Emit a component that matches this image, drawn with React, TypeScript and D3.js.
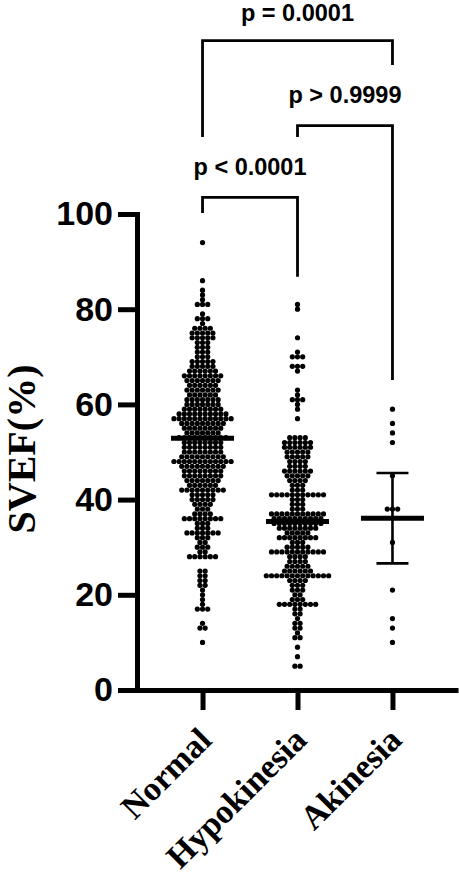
import React, { useRef, useEffect } from 'react';
import * as d3 from 'd3';

// groups on the x axis
const categories = ['Normal', 'Hypokinesia', 'Akinesia'];

const normalRows: [number, number][] = [
  [94, 1], [86, 1], [84, 1], [83, 1], [82, 1], [81, 3], [79, 1], [78, 3], [77, 1],
  [76, 4], [75, 5], [74, 5], [73, 3], [72, 3], [71, 3], [70, 3], [69, 5], [68, 5],
  [67, 6], [66, 8], [65, 7], [64, 6], [63, 7], [62, 6], [61, 7], [60, 7], [59, 8],
  [58, 10], [57, 12], [56, 9], [55, 8], [54, 7], [53, 10], [52, 8], [51, 8], [50, 8],
  [49, 9], [48, 12], [47, 9], [46, 8], [45, 8], [44, 7], [43, 6], [42, 9], [41, 5],
  [40, 5], [39, 4], [38, 3], [37, 4], [36, 8], [35, 3], [34, 3], [33, 7], [32, 3],
  [31, 2], [30, 3], [29, 2], [28, 6], [25, 2], [24, 2], [23, 2], [22, 2], [21, 1],
  [20, 1], [19, 1], [18, 1], [17, 3], [14, 1], [13, 2], [10, 1],
];

const hypokinesiaRows: [number, number][] = [
  [81, 1], [80, 1], [74, 1], [71, 1], [70, 3], [68, 3], [67, 1], [63, 1], [62, 1],
  [61, 3], [60, 1], [59, 1], [57, 1], [53, 4], [52, 6], [51, 6], [50, 5], [49, 5],
  [48, 4], [47, 4], [46, 6], [45, 5], [44, 4], [43, 3], [42, 3], [41, 11], [40, 3],
  [39, 3], [38, 3], [37, 11], [36, 10], [35, 10], [34, 8], [33, 5], [32, 8], [31, 3],
  [30, 5], [29, 11], [28, 4], [27, 4], [26, 5], [25, 6], [24, 13], [23, 4], [22, 3],
  [21, 3], [20, 2], [19, 3], [18, 8], [17, 2], [16, 2], [15, 1], [14, 2], [13, 2],
  [12, 1], [11, 2], [9, 1], [7, 1], [5, 2],
];

const akinesiaRows: [number, number][] = [
  [59, 1], [56, 1], [54, 1], [52, 1], [45, 1], [38, 3], [31, 1], [21, 1], [15, 1],
  [13, 1], [10, 1],
];

const groupRows = [normalRows, hypokinesiaRows, akinesiaRows];

// summary line per group, and the error bar that is visible (Akinesia only)
const means = [52.9, 35.4, 36.1];
const errorLow = [null, null, 26.6];
const errorHigh = [null, null, 45.6];

const yTicks = [0, 20, 40, 60, 80, 100];

// multiple comparisons shown above the plot
const comparisons = [
  { a: 'Normal', b: 'Akinesia', label: 'p = 0.0001' },
  { a: 'Hypokinesia', b: 'Akinesia', label: 'p > 0.9999' },
  { a: 'Normal', b: 'Hypokinesia', label: 'p < 0.0001' },
];

export default function App() {
  const ref = useRef<SVGSVGElement>(null);

  useEffect(() => {
    if (!ref.current) return;
    const svg = d3.select(ref.current);
    svg.selectAll('*').remove();

    const x = d3.scalePoint<string>().domain(categories).range([137, 458]).padding(0.69);
    const y = d3.scaleLinear().domain([0, 100]).range([690, 214]);

    const axisW = 5;
    const sans = '"Liberation Sans", Arial, sans-serif';
    const serif = '"Liberation Serif", "Times New Roman", serif';

    // dots
    const r = 2.6;
    const step = 5.2;
    const dots: { cx: number; cy: number }[] = [];
    groupRows.forEach((rows, gi) => {
      const cx0 = x(categories[gi])!;
      rows.forEach(([v, n]) => {
        for (let i = 0; i < n; i++) {
          dots.push({ cx: cx0 + (i - (n - 1) / 2) * step, cy: y(v) });
        }
      });
    });
    svg.append('g')
      .selectAll('circle')
      .data(dots)
      .enter()
      .append('circle')
      .attr('cx', d => d.cx)
      .attr('cy', d => d.cy)
      .attr('r', r)
      .attr('fill', '#000');

    // mean lines + error bars
    const g = svg.append('g').attr('stroke', '#000');
    categories.forEach((c, i) => {
      const cx = x(c)!;
      if (errorLow[i] != null && errorHigh[i] != null) {
        g.append('line')
          .attr('x1', cx).attr('x2', cx)
          .attr('y1', y(errorLow[i] as number)).attr('y2', y(errorHigh[i] as number))
          .attr('stroke-width', 2.6);
        [errorLow[i], errorHigh[i]].forEach(v => {
          g.append('line')
            .attr('x1', cx - 16).attr('x2', cx + 16)
            .attr('y1', y(v as number)).attr('y2', y(v as number))
            .attr('stroke-width', 2.6);
        });
      }
      g.append('line')
        .attr('x1', cx - 31.5).attr('x2', cx + 31.5)
        .attr('y1', y(means[i])).attr('y2', y(means[i]))
        .attr('stroke-width', 5);
    });

    // y axis
    const yAxis = svg.append('g')
      .attr('transform', 'translate(137,0)')
      .call(d3.axisLeft(y).tickValues(yTicks).tickSize(19).tickSizeOuter(0).tickPadding(5));
    yAxis.select('.domain').attr('stroke-width', axisW).attr('stroke-linecap', 'square');
    yAxis.selectAll('.tick line').attr('stroke-width', axisW);
    yAxis.selectAll('.tick text')
      .attr('font-family', sans)
      .attr('font-weight', 'bold')
      .attr('font-size', 34)
      .attr('fill', '#000');

    // x axis
    const xAxis = svg.append('g')
      .attr('transform', 'translate(0,690)')
      .call(d3.axisBottom(x).tickSize(20).tickSizeOuter(0).tickFormat(() => ''));
    xAxis.select('.domain').attr('stroke-width', axisW);
    xAxis.selectAll('.tick line').attr('stroke-width', axisW);

    svg.append('g')
      .selectAll('text')
      .data(categories)
      .enter()
      .append('text')
      .attr('transform', d => `translate(${x(d)! + 11},742) rotate(-45)`)
      .attr('text-anchor', 'end')
      .attr('font-family', serif)
      .attr('font-weight', 'bold')
      .attr('font-size', 34)
      .text(d => d);

    // y title
    svg.append('text')
      .attr('transform', 'translate(35,449) rotate(-90)')
      .attr('text-anchor', 'middle')
      .attr('font-family', serif)
      .attr('font-weight', 'bold')
      .attr('font-size', 40)
      .text('SVEF(%)');

    // comparison brackets (pixel layout for each one)
    const brackets = [
      { top: 40.7, leftEnd: 137, rightEnd: 65, textY: 21 },
      { top: 125.7, leftEnd: 137, rightEnd: 380, textY: 103 },
      { top: 197.3, leftEnd: 213, rightEnd: 276.7, textY: 175 },
    ];
    comparisons.forEach((cmp, i) => {
      const b = brackets[i];
      const xa = x(cmp.a)!;
      const xb = x(cmp.b)!;
      svg.append('path')
        .attr('d', `M${xa},${b.leftEnd}V${b.top}H${xb}V${b.rightEnd}`)
        .attr('fill', 'none')
        .attr('stroke', '#000')
        .attr('stroke-width', 2.8);
      svg.append('text')
        .attr('x', (xa + xb) / 2)
        .attr('y', b.textY)
        .attr('text-anchor', 'middle')
        .attr('font-family', sans)
        .attr('font-weight', 'bold')
        .attr('font-size', 23.5)
        .text(cmp.label);
    });
  }, []);

  return (
    <svg
      ref={ref}
      width={459}
      height={882}
      style={{ position: 'absolute', left: 0, top: 0, background: '#fff' }}
    />
  );
}
